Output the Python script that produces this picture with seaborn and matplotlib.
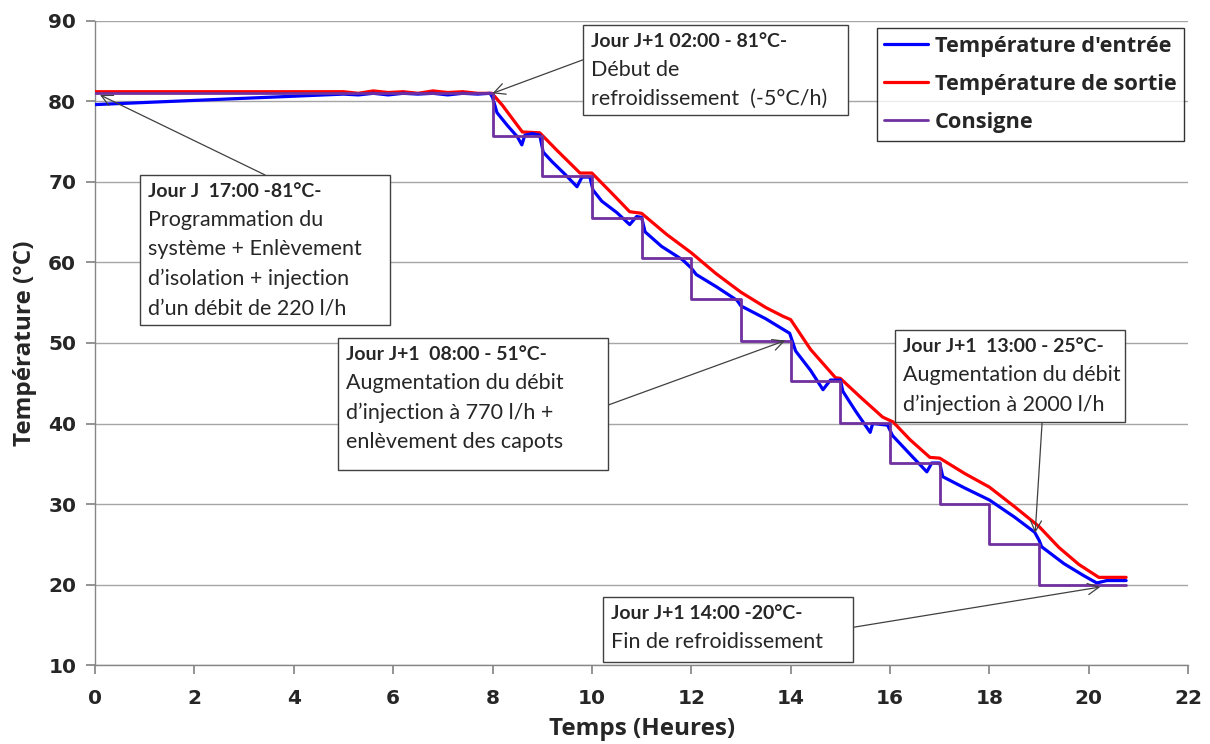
import matplotlib
matplotlib.use("Agg")
import matplotlib.pyplot as plt
from matplotlib.patches import Rectangle
import seaborn as sns
import pandas as pd

# ---------------- data ----------------
entree_x = [0, 5.0, 5.3, 5.6, 5.9, 6.2, 6.5, 6.8, 7.1, 7.4, 7.7, 7.95,
            8.0, 8.09, 8.3, 8.5, 8.59, 8.65, 8.8, 8.95,
            9.02, 9.2, 9.45, 9.7, 9.8, 9.96,
            10.02, 10.2, 10.5, 10.76, 10.9, 11.0,
            11.07, 11.4, 11.83, 12.0, 12.1, 12.5, 12.92, 13.0, 13.5, 13.98,
            14.1, 14.4, 14.65, 14.8, 15.0,
            15.05, 15.3, 15.6, 15.65, 15.95,
            16.05, 16.4, 16.74, 16.84, 17.0,
            17.06, 17.5, 18.0, 18.5, 18.91,
            19.0, 19.05, 19.5, 19.9, 20.16, 20.36, 20.75]
entree_y = [79.6, 80.9, 80.8, 81.0, 80.8, 81.0, 80.9, 81.0, 80.8, 81.0, 80.9, 81.0,
            80.5, 78.6, 77.0, 75.6, 74.6, 75.8, 76.0, 75.8,
            73.7, 72.5, 71.0, 69.4, 70.6, 70.6,
            69.0, 67.6, 66.2, 64.7, 65.7, 65.6,
            63.8, 62.0, 60.3, 59.3, 58.5, 57.0, 55.3, 54.6, 53.0, 51.2,
            49.0, 46.6, 44.2, 45.4, 45.4,
            44.0, 41.6, 38.9, 40.0, 39.8,
            38.5, 36.2, 34.0, 35.1, 35.1,
            33.4, 32.0, 30.5, 28.4, 26.5,
            25.5, 24.7, 22.6, 21.1, 20.2, 20.5, 20.5]

sortie_x = [0, 5.0, 5.3, 5.6, 5.9, 6.2, 6.5, 6.8, 7.1, 7.4, 7.7, 7.99,
            8.2, 8.6, 8.95,
            9.3, 9.76, 10.0,
            10.4, 10.76, 11.0,
            11.5, 12.0, 12.5, 13.0, 13.5, 13.85, 14.0,
            14.4, 14.9, 15.0,
            15.4, 15.85, 16.06,
            16.4, 16.8, 17.0,
            17.5, 18.0, 18.5, 19.0,
            19.4, 19.8, 20.2, 20.75]
sortie_y = [81.2, 81.2, 81.0, 81.3, 81.1, 81.2, 81.0, 81.3, 81.1, 81.2, 81.0, 81.0,
            79.5, 76.2, 76.1,
            73.9, 71.1, 71.1,
            68.6, 66.3, 66.1,
            63.5, 61.2, 58.6, 56.3, 54.4, 53.3, 52.9,
            49.2, 45.7, 45.6,
            43.3, 40.8, 40.2,
            38.0, 35.8, 35.7,
            33.8, 32.1, 29.7, 27.2,
            24.6, 22.5, 20.9, 20.9]

consigne_x = [0, 8, 9, 10, 11, 12, 13, 14, 15, 16, 17, 18, 19, 20.75]
consigne_y = [81.0, 75.7, 70.7, 65.5, 60.6, 55.5, 50.3, 45.3, 40.1, 35.1, 30.0, 25.0, 19.9, 19.9]

labels = ["Température d'entrée", "Température de sortie", "Consigne"]

ann_titles = ["Jour J  17:00 -81°C-", "Jour J+1 02:00 - 81°C-", "Jour J+1  08:00 - 51°C-",
              "Jour J+1  13:00 - 25°C-", "Jour J+1 14:00 -20°C-"]
ann_bodies = ["Programmation du\nsystème + Enlèvement\nd’isolation + injection\nd’un débit de 220 l/h",
              "Début de\nrefroidissement  (-5°C/h)",
              "Augmentation du débit\nd’injection à 770 l/h +\nenlèvement des capots",
              "Augmentation du débit\nd’injection à 2000 l/h",
              "Fin de refroidissement"]
ann_targets = [(0.1, 80.8), (8.0, 81.0), (13.89, 50.3), (18.92, 26.4), (20.23, 19.7)]

# layout of the annotation boxes (x0, x1, y_bottom, y_top) in data units and arrow tails
ann_boxes = [(0.906, 5.938, 52.24, 70.87), (9.82, 15.16, 78.32, 89.5), (4.89, 10.33, 34.22, 50.62),
             (16.10, 20.73, 40.19, 51.61), (10.23, 15.26, 10.37, 18.45)]
ann_tails = [(3.42, 70.87), (9.82, 85.16), (10.33, 42.3), (19.06, 40.19), (15.26, 14.7)]

# ---------------- plot ----------------
sns.set_theme(style="white")
fig = plt.figure(figsize=(12.1, 7.44), dpi=100)
ax = fig.add_axes([0.0785, 0.106, 0.9035, 0.866])

df_e = pd.DataFrame({"x": entree_x, "y": entree_y})
df_s = pd.DataFrame({"x": sortie_x, "y": sortie_y})
df_c = pd.DataFrame({"x": consigne_x, "y": consigne_y})

sns.lineplot(data=df_e, x="x", y="y", ax=ax, color="#0000FF", lw=2.3, label=labels[0], sort=False, zorder=4)
sns.lineplot(data=df_s, x="x", y="y", ax=ax, color="#FF0000", lw=2.3, label=labels[1], sort=False, zorder=3)
sns.lineplot(data=df_c, x="x", y="y", ax=ax, color="#7030A0", lw=2.0, label=labels[2], sort=False,
             drawstyle="steps-post", zorder=5)

ax.set_xlim(0, 22)
ax.set_ylim(10, 90)
ax.set_xticks(range(0, 23, 2))
ax.set_yticks(range(10, 91, 10))
ax.yaxis.grid(True, color="#a6a6a6", lw=1)
ax.xaxis.grid(False)
for s in ["top", "right"]:
    ax.spines[s].set_visible(False)
for s in ["left", "bottom"]:
    ax.spines[s].set_color("#868686")
    ax.spines[s].set_linewidth(1)
ax.tick_params(axis="y", which="major", length=6.5, color="#868686", direction="out", left=True, pad=7)
ax.tick_params(axis="x", which="major", length=6.5, color="#868686", direction="out", bottom=True, pad=11)
for lab in ax.get_xticklabels() + ax.get_yticklabels():
    lab.set_fontweight("bold")
    lab.set_fontsize(14.5)
    lab.set_family("DejaVu Sans")

ax.set_xlabel("Temps (Heures)", fontsize=17.5, fontweight="bold", family="Open Sans", labelpad=6)
ax.set_ylabel("Température (°C)", fontsize=17.5, fontweight="bold", family="Open Sans", labelpad=8)

leg = ax.legend(loc="upper right", bbox_to_anchor=(1.0, 0.995), frameon=True, fancybox=False,
                prop={"family": "Open Sans", "weight": "bold", "size": 15.7},
                handlelength=2.0, labelspacing=0.78, borderpad=0.35, handletextpad=0.3,
                borderaxespad=0.2)
leg.get_frame().set_edgecolor("black")
leg.get_frame().set_linewidth(1)

for title, body, tgt, box, tail in zip(ann_titles, ann_bodies, ann_targets, ann_boxes, ann_tails):
    x0, x1, yb, yt = box
    ax.add_patch(Rectangle((x0, yb), x1 - x0, yt - yb, fc="white", ec="#404040", lw=1, zorder=7))
    ax.annotate("", xy=tgt, xytext=tail,
                arrowprops=dict(arrowstyle="->", color="#404040", lw=0.9, mutation_scale=20,
                                shrinkA=0, shrinkB=0),
                zorder=6)
    ax.annotate(title, xy=(x0, yt), xytext=(5.5, -6), textcoords="offset points",
                ha="left", va="top", fontsize=14, fontweight="bold", family="Lato", zorder=8)
    ax.annotate(body, xy=(x0, yt), xytext=(5.5, -25), textcoords="offset points",
                ha="left", va="top", fontsize=15.5, family="Lato", linespacing=1.6, zorder=8)

fig.savefig("out.png", dpi=100)
